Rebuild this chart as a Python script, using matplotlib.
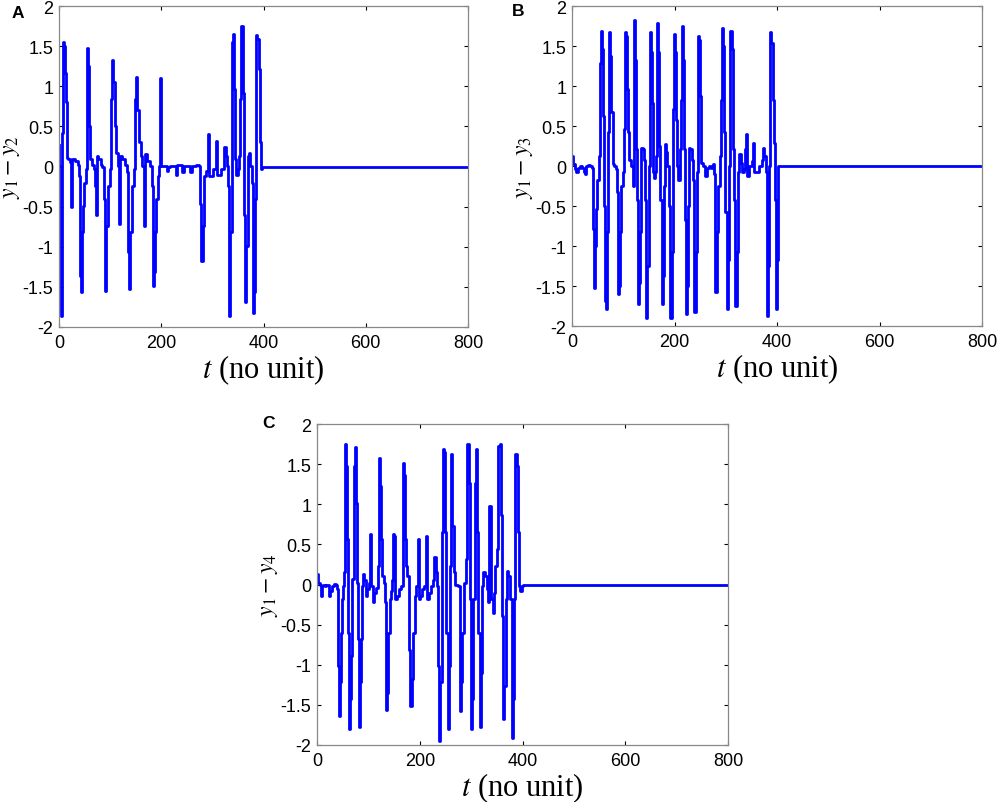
import numpy as np
import matplotlib
matplotlib.use("Agg")
import matplotlib.pyplot as plt

plt.rcParams['font.family'] = ['Liberation Sans', 'DejaVu Sans']
plt.rcParams['mathtext.fontset'] = 'stix'

# y1 - y2 (panel A)
t_a = [0, 0.5, 3.3, 5.2, 6.5, 8.5, 9.8, 12.4, 14.3, 16.3, 17.6, 20.9, 22.8, 23.5, 25.4,
       30.6, 37.2, 39.1, 40.4, 42.4, 44.3, 46.3, 48.2, 52.2, 54.1, 55.4, 57.4, 59.3, 61.3,
       65.2, 68.4, 70.4, 71.7, 73.7, 76.9, 81.5, 84.7, 88.0, 90.0, 92.6, 95.2, 99.1, 101.7,
       103.7, 105.6, 108.9, 112.1, 116.0, 117.3, 119.3, 123.9, 128.4, 132.3, 134.3, 136.9,
       138.9, 142.1, 146.7, 149.3, 150.6, 153.2, 155.8, 159.7, 162.3, 165.6, 167.5, 172.1,
       177.3, 181.2, 183.2, 185.8, 188.4, 190.4, 193.0, 196.2, 197.5, 199.5, 206.6, 211.2,
       213.8, 217.7, 222.9, 228.2, 231.4, 236.0, 239.9, 243.8, 249.0, 254.2, 256.8, 260.8,
       268.6, 273.8, 276.4, 278.4, 281.0, 284.2, 288.1, 290.7, 292.7, 301.2, 307.7, 309.6,
       317.5, 322.7, 325.9, 328.6, 331.2, 333.1, 335.1, 337.7, 340.3, 342.3, 344.2, 346.8,
       349.4, 351.4, 353.3, 355.3, 357.9, 359.8, 361.8, 364.4, 366.4, 369.0, 371.6, 374.2,
       376.8, 379.4, 382.0, 384.0, 385.3, 387.9, 390.5, 392.4, 394.4, 396.4, 800]
y_a = [0.27, 0.01, -1.86, -0.99, 0.42, 1.55, 1.50, 1.17, 0.80, 0.10, 0.09, 0.05, -0.07, -0.51, 0.09,
       0.07, 0.02, -0.12, -1.37, -1.56, -0.82, -0.49, -0.20, -0.03, 0.84, 1.48, 1.25, 0.51, 0.09,
       0.02, -0.03, -0.24, -0.61, 0.13, 0.09, 0.02, -0.01, -0.41, -1.55, -0.74, -0.24, -0.03, 0.84,
       1.33, 1.05, 0.51, 0.17, 0.01, -0.72, 0.13, 0.09, 0.02, -0.07, -1.07, -1.53,
       -0.82, -0.24, -0.03, 0.84, 1.12, 0.71, 0.30, 0.13, 0.01, -0.74, 0.15, 0.07,
       0.01, -0.24, -1.49, -1.32, -0.82, -0.41, -0.12, 0.01, 1.10, 0.01, 0.01, -0.05,
       -0.01, 0.01, 0.01, -0.10, 0.02, 0.02, -0.07, 0.01, 0.01, 0.01, -0.07, 0.01,
       0.02, 0.01, -0.47, -1.18, -0.74, -0.12, -0.05, 0.40, -0.12, -0.03, 0.32, -0.10,
       -0.03, 0.24, 0.13, 0.01, -0.24, -1.86, -0.82, 1.55, 1.65, 0.96, 0.09, -0.10,
       -0.03, 0.13, 0.84, 1.75, 1.75, 0.92, -0.61, -1.69, -0.99, 0.13, 0.17, 0.01,
       -0.20, -1.82, -1.56, -0.41, 1.64, 1.59, 1.21, 0.30, -0.03, -0.01, 0]

# y1 - y3 (panel B)
t_b = [0, 1.9, 5.2, 8.4, 11.0, 16.2, 19.5, 22.7, 24.7, 26.6, 30.5, 35.7, 39.6, 41.6, 43.5,
       45.5, 47.4, 49.4, 52.6, 54.5, 56.5, 58.4, 60.4, 63.0, 64.9, 66.9, 68.8, 70.8, 72.7,
       74.7, 76.6, 79.2, 82.5, 85.7, 87.7, 89.6, 91.6, 93.5, 96.1, 99.4, 102.0, 103.9, 105.8,
       107.8, 109.7, 111.0, 113.6, 115.6, 118.2, 120.8, 122.7, 124.7, 126.6, 128.6, 130.5,
       132.5, 135.1, 137.7, 140.3, 142.2, 144.2, 146.8, 149.4, 151.9, 153.9, 155.8, 158.4,
       160.4, 162.3, 164.3, 166.2, 168.2, 170.1, 172.1, 174.7, 177.3, 179.2, 181.2, 183.1,
       185.7, 189.0, 191.6, 194.2, 196.1, 198.1, 200.0, 202.6, 205.2, 207.8, 210.4, 213.0,
       214.9, 216.9, 219.5, 221.4, 223.4, 225.3, 227.3, 229.2, 231.2, 233.8, 236.4, 239.0,
       241.6, 243.5, 246.1, 248.1, 250.0, 252.6, 256.5, 259.7, 263.0, 267.5, 271.4, 274.7,
       277.0, 279.2, 282.5, 285.7, 289.0, 290.9, 292.2, 294.2, 296.8, 299.4, 301.9, 303.9,
       306.5, 309.1, 311.7, 314.3, 316.9, 318.8, 321.4, 324.0, 326.0, 329.2, 332.5, 335.1,
       337.7, 339.6, 341.6, 346.1, 350.6, 353.9, 355.8, 360.4, 365.6, 370.1, 372.7, 375.3,
       377.9, 379.9, 382.5, 384.4, 386.4, 389.0, 391.6, 394.2, 396.1, 398.1, 400.0, 401.9, 800]
y_b = [0.13, 0.02, -0.04, -0.08, -0.02, 0, -0.02, -0.08, -0.10, 0, 0.01, 0, -0.02, -0.79, -1.52,
       -1.0, -0.54, -0.17, 0.12, 1.29, 1.69, 1.46, 0.62, -0.5, -1.69, -1.79, -0.83, 0.42, 1.67,
       1.37, 0.67, 0.02, 0, -0.04, -0.33, -1.6, -1.5, -0.83, -0.25, -0.08, 0.46, 1.67, 1.62,
       0.96, 0.42, 0.08, 0.08, 0, -0.25, 1.82, 1.33, 0.21, -0.42, -1.73, -1.46,
       -0.83, 0.23, 0.21, 0.08, -0.42, -1.9, -1.25, 0, 1.67, 1.42, 0.79, -0.08,
       -0.15, -0.08, 0.12, 1.79, 1.42, 0.25, -0.42, -1.73, -1.38, -0.25, 0.27, 0.17,
       0, -0.5, -1.9, -1.08, 0.71, 1.65, 1.42, 0.58, 0, -0.17, 0.21, 0.83,
       1.75, 1.33, 0.21, -0.67, -1.85, -1.5, -0.5, 0.23, 0.21, 0.08, -0.17, -1.83,
       -1.08, -0.08, 1.62, 1.58, 0.88, 0.04, 0, -0.13, -0.02, 0, -0.02, 0.02,
       -0.1, -1.58, -0.83, -0.25, 0.12, 0.83, 1.73, 1.5, 0.42, -0.58, -1.79, -1.17,
       0, 1.69, 1.46, 0.21, -0.42, -1.75, -1.08, -0.08, 0.15, 0.04, -0.08, -0.04,
       0.21, 0.4, -0.13, 0, 0.06, 0.29, -0.08, -0.08, 0, 0.08, 0.23, 0.12,
       -0.08, -1.88, -1.25, 0, 1.67, 1.54, 0.83, 0.29, -0.42, -1.79, -1.17, 0, 0]

# y1 - y4 (panel C)
t_c = [0, 1.9, 5.2, 7.1, 9.1, 11.7, 15.6, 18.2, 21.4, 23.4, 26.0, 28.6, 32.5, 36.4, 39.0,
       40.9, 42.9, 44.8, 46.8, 48.7, 51.3, 53.3, 55.2, 57.2, 59.1, 61.1, 63.0, 65.0, 66.9,
       68.9, 71.5, 73.4, 75.4, 77.3, 79.3, 81.2, 83.2, 85.1, 87.1, 89.0, 92.3, 94.9, 98.1,
       101.4, 103.3, 105.3, 108.5, 111.8, 115.7, 118.3, 120.2, 122.2, 124.1, 126.7, 130.0,
       133.2, 135.2, 137.1, 139.1, 141.6, 144.2, 146.8, 148.8, 150.7, 152.7, 155.9, 159.8,
       164.4, 167.0, 168.9, 170.9, 173.5, 176.1, 179.3, 181.9, 184.5, 187.1, 190.4, 193.6,
       196.2, 198.2, 201.4, 205.3, 208.6, 212.5, 214.4, 217.7, 221.6, 226.1, 228.7, 231.3,
       233.9, 235.9, 237.8, 239.8, 242.4, 244.3, 246.9, 248.9, 251.5, 254.1, 256.7, 258.6,
       260.6, 263.2, 265.8, 268.4, 271.6, 274.9, 278.1, 280.0, 282.7, 285.9, 289.1, 292.4,
       295.0, 297.6, 299.5, 302.1, 304.1, 306.7, 308.6, 311.2, 313.8, 316.4, 318.4, 321.0,
       323.6, 326.8, 330.1, 332.7, 335.3, 337.2, 339.2, 341.8, 344.4, 347.0, 349.6, 352.8,
       356.1, 358.0, 360.0, 361.9, 364.5, 367.1, 369.7, 372.3, 375.6, 378.8, 381.4, 384.0,
       386.0, 388.6, 391.2, 393.1, 395.1, 398.3, 401.6, 800]
y_c = [0.13, 0.02, 0.0, -0.14, -0.02, -0.01, -0.02, 0.0, 0.0, -0.14, -0.08, -0.02, 0.01, 0.0, -0.06,
       -1.01, -1.64, -1.22, -0.6, -0.18, -0.02, 0.15, 1.75, 1.48, 0.57, -0.6, -1.8, -1.43, -0.89,
       0.07, 1.48, 1.71, 1.02, 0.02, -0.68, -1.78, -1.22, -0.68, -0.02, 0.13, 0.05, -0.14, -0.06,
       0.02, 0.63, -0.02, -0.22, -0.1, -0.04, 0.23, 1.58, 1.23, 0.57, 0.11, 0.02,
       -0.22, -1.56, -1.35, -0.6, -0.18, -0.08, 0.05, 0.63, 0.61, -0.18, -0.14, -0.06,
       -0.02, 1.52, 1.36, 0.57, 0.23, 0.11, -0.81, -1.51, -1.18, -0.6, -0.14, -0.02,
       0.57, -0.18, -0.14, -0.06, -0.02, 0.61, -0.18, -0.1, -0.02, 0.05, 0.34, 0.15,
       -0.02, -1.01, -1.95, -1.22, 0.65, 1.69, 1.65, 0.65, -0.6, -1.8, -1.01, 0.23,
       1.63, 0.73, 0.15, 0.0, 0.0, -0.02, -1.58, -1.22, -0.6, 0.02, 0.32, 1.75,
       1.27, -0.18, -1.8, -1.43, -0.18, 1.27, 1.69, 0.65, -0.6, -1.78, -1.1, -0.02,
       0.15, 0.11, -0.06, -0.22, 0.98, 0.98, -0.18, -0.35, -0.1, 0.23, 0.44, 1.73,
       1.75, 0.86, -0.39, -1.68, -1.26, -0.18, 0.17, 0.11, -0.18, -1.91, -1.43, -0.18,
       1.63, 1.48, 0.65, -0.02, -0.08, -0.02, 0.0, 0]

x_ticks = [0, 200, 400, 600, 800]
y_ticks = [-2, -1.5, -1, -0.5, 0, 0.5, 1, 1.5, 2]
y_tick_labels = ['-2', '-1.5', '-1', '-0.5', '0', '0.5', '1', '1.5', '2']

W, H = 997, 803
fig = plt.figure(figsize=(W / 100, H / 100), dpi=100)

panels = [
    ('A', t_a, y_a, r'$y_1 - y_2$', [59 / W, 1 - 328 / H, 409 / W, 321 / H], (12, 13)),
    ('B', t_b, y_b, r'$y_1 - y_3$', [572 / W, 1 - 327 / H, 410 / W, 320 / H], (512, 11)),
    ('C', t_c, y_c, r'$y_1 - y_4$', [317 / W, 1 - 746 / H, 411 / W, 321 / H], (262, 424)),
]

for letter, t, y, ylab, rect, lpos in panels:
    ax = fig.add_axes(rect)
    ax.plot(t, y, color='#0000ff', lw=2.0, drawstyle='steps-post')
    ax.set_xlim(0, 800)
    ax.set_ylim(-2, 2)
    ax.set_xticks(x_ticks)
    ax.set_yticks(y_ticks)
    ax.set_yticklabels(y_tick_labels)
    ax.tick_params(direction='in', length=3, width=0.8, top=True, right=True,
                   labelsize=13, colors='black')
    ax.tick_params(axis='x', pad=5)
    ax.tick_params(axis='y', pad=4)
    for s in ax.spines.values():
        s.set_color('#888888')
        s.set_linewidth(0.9)
    ax.set_ylabel(ylab, fontsize=17)
    ax.yaxis.set_label_coords(-37 / (rect[2] * W), 0.5)
    ax.set_xlabel(r'$t$ (no unit)', fontsize=22, family='Liberation Serif', labelpad=1)
    fig.text(lpos[0] / W, 1 - lpos[1] / H, letter, fontsize=12.5, fontweight='bold',
             ha='left', va='center')

fig.savefig('out.png', dpi=100)
